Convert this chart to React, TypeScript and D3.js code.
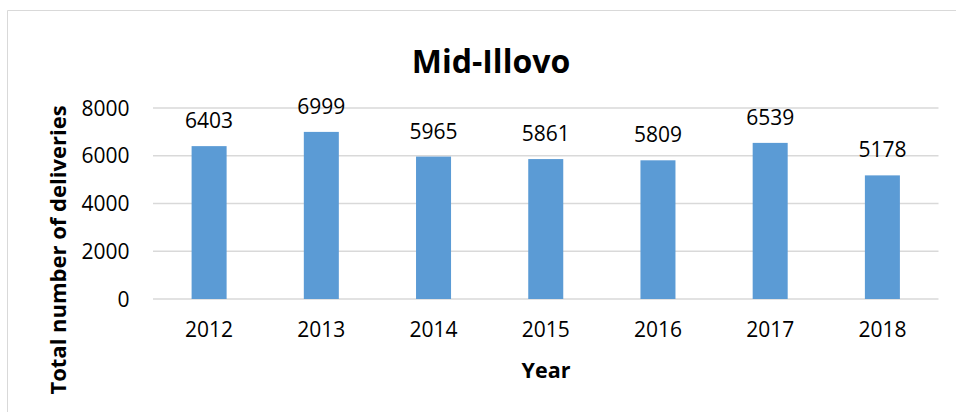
import React from "react";
import * as d3 from "d3";

const years = ["2012", "2013", "2014", "2015", "2016", "2017", "2018"];
const deliveries = [6403, 6999, 5965, 5861, 5809, 6539, 5178];
const yTicks = [0, 2000, 4000, 6000, 8000];

const W = 956;
const H = 412;
const FONT = "'Open Sans', sans-serif";

export default function App() {
  const left = 153;
  const right = 938.5;
  const top = 108;
  const bottom = 299;

  const x = d3
    .scaleBand<string>()
    .domain(years)
    .range([left, right])
    .paddingInner(0.688)
    .paddingOuter(0.344);
  const y = d3.scaleLinear().domain([0, 8000]).range([bottom, top]);

  return (
    <svg
      width={W}
      height={H}
      style={{ position: "absolute", left: 0, top: 0, background: "#fff" }}
      fontFamily={FONT}
    >
      <rect x={0} y={0} width={W} height={H} fill="#fff" />
      <path d={`M7.5,${H + 2} V10.5 H${W + 2}`} fill="none" stroke="#d9d9d9" strokeWidth={1} />

      <text x={491} y={72.5} textAnchor="middle" fontSize={32} fontWeight="bold" fill="#000">
        Mid-Illovo
      </text>

      {yTicks.map((t) => (
        <g key={t}>
          <line x1={left} x2={right} y1={y(t)} y2={y(t)} stroke="#d9d9d9" strokeWidth={1.3} />
          <text x={129.5} y={y(t)} dy="0.36em" textAnchor="end" fontSize={21} fill="#000">
            {t}
          </text>
        </g>
      ))}

      {years.map((yr, i) => (
        <g key={yr}>
          <rect
            x={x(yr)!}
            y={y(deliveries[i])}
            width={x.bandwidth()}
            height={bottom - y(deliveries[i])}
            fill="#5b9bd5"
          />
          <text
            x={x(yr)! + x.bandwidth() / 2}
            y={y(deliveries[i]) - 18}
            textAnchor="middle"
            fontSize={21}
            fill="#000"
          >
            {deliveries[i]}
          </text>
          <text x={x(yr)! + x.bandwidth() / 2} y={337} textAnchor="middle" fontSize={21} fill="#000">
            {yr}
          </text>
        </g>
      ))}

      <text x={546} y={378} textAnchor="middle" fontSize={21.5} fontWeight="bold" fill="#000">
        Year
      </text>
      <text
        transform={`translate(58,250) rotate(-90)`}
        y={0}
        dy="0.35em"
        textAnchor="middle"
        fontSize={22}
        fontWeight="bold"
        fill="#000"
      >
        Total number of deliveries
      </text>
    </svg>
  );
}
